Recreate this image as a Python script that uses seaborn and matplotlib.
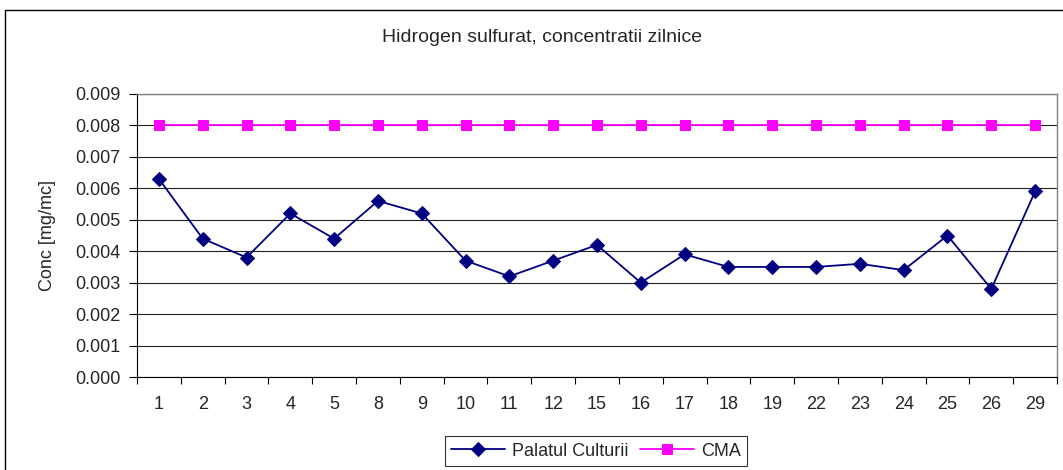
import matplotlib
matplotlib.use("Agg")
import matplotlib.pyplot as plt
import seaborn as sns
import numpy as np
import pandas as pd
from matplotlib.patches import Rectangle

days = ["1", "2", "3", "4", "5", "8", "9", "10", "11", "12", "15", "16", "17", "18", "19", "22", "23", "24", "25", "26", "29"]
palatul = [0.0063, 0.0044, 0.0038, 0.0052, 0.0044, 0.0056, 0.0052, 0.0037, 0.0032, 0.0037, 0.0042,
           0.0030, 0.0039, 0.0035, 0.0035, 0.0035, 0.0036, 0.0034, 0.0045, 0.0028, 0.0059]
cma = [0.008] * len(days)
yticks = [0.000, 0.001, 0.002, 0.003, 0.004, 0.005, 0.006, 0.007, 0.008, 0.009]

sns.set_theme(style="white")
plt.rcParams['font.family'] = ['Liberation Sans', 'DejaVu Sans']

FS = 13

fig = plt.figure(figsize=(10.63, 4.70), dpi=100)
ax = fig.add_axes([137/1063, 1 - 377/470, (1057 - 137)/1063, (377 - 94)/470])

pos = np.arange(len(days))
df = pd.DataFrame({"pos": pos, "Palatul Culturii": palatul, "CMA": cma})

sns.lineplot(data=df, x="pos", y="Palatul Culturii", ax=ax, color="#000080", marker="D",
             markersize=7.5, markeredgecolor="#000080", linewidth=1.3, label="Palatul Culturii")
sns.lineplot(data=df, x="pos", y="CMA", ax=ax, color="#FF00FF", marker="s",
             markersize=7, markeredgecolor="#FF00FF", linewidth=1.3, label="CMA")

ax.set_xlim(-0.5, len(days) - 0.5)
ax.set_ylim(0, 0.009)
ax.set_yticks(yticks)
ax.set_yticklabels([f"{v:.3f}" for v in yticks], fontsize=FS)
ax.set_xticks(pos)
ax.set_xticklabels(days, fontsize=FS)
ax.set_xticks(np.arange(-0.5, len(days), 1), minor=True)
ax.tick_params(axis="x", which="major", length=0, pad=14)
ax.tick_params(axis="x", which="minor", length=5, width=0.8, color="black", direction="out", bottom=True)
ax.tick_params(axis="y", which="major", length=6, width=0.8, color="black", direction="out", left=True, pad=6)
ax.yaxis.grid(True, color="#202020", linewidth=0.8)
ax.set_axisbelow(True)
ax.set_xlabel("")
ax.set_ylabel("Conc [mg/mc]", fontsize=FS, labelpad=14)

for side in ["top", "right"]:
    ax.spines[side].set_color("#808080")
    ax.spines[side].set_linewidth(1.0)
for side in ["left", "bottom"]:
    ax.spines[side].set_color("black")
    ax.spines[side].set_linewidth(0.8)

fig.text(542/1063, 1 - 38/470, "Hidrogen sulfurat, concentratii zilnice", ha="center", va="center", fontsize=14)

leg = ax.legend(loc="center", bbox_to_anchor=(596/1063, 1 - 451/470), bbox_transform=fig.transFigure,
                ncol=2, frameon=True, fontsize=FS, handlelength=3.0, columnspacing=0.6,
                handletextpad=0.4, borderpad=0.35, fancybox=False)
leg.get_frame().set_edgecolor("black")
leg.get_frame().set_linewidth(0.8)

fig.patches.append(Rectangle((5/1063, -0.1), 1.2, 1 - 10/470 + 0.1, transform=fig.transFigure,
                             fill=False, edgecolor="black", linewidth=1.0, zorder=-1))

fig.savefig("out.png", dpi=100)
